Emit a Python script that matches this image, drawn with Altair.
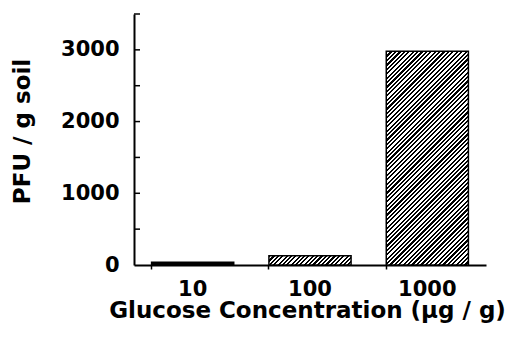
import altair as alt
import pandas as pd

# ---- data ----
categories = ["10", "100", "1000"]
pfu = [40, 130, 2980]
y_label_values = [0, 1000, 2000, 3000]
y_tick_values = [500, 1000, 1500, 2000, 2500, 3000, 3500]

df = pd.DataFrame({"conc": categories, "pfu": pfu})
ticks_df = pd.DataFrame({"t": y_tick_values})

# ---- layout/style ----
W, H = 352, 251
YMAX = 3500
FONT = "DejaVu Sans"
pad_inner, pad_outer = 0.3, 0.15
band_w = W / (len(categories) - pad_inner + 2 * pad_outer) * (1 - pad_inner)


def hatch(w, h, period=4.4, frac=0.5):
    """Diagonal '/' hatching expressed as a linear gradient in bbox units."""
    L = w + h
    n = max(1, round(L / period))
    k = (w + h) / (w * w + h * h)
    stops = []
    for i in range(n):
        a, b, c = i / n, (i + frac) / n, (i + 1) / n
        stops += [
            {"offset": a, "color": "black"},
            {"offset": b, "color": "black"},
            {"offset": b, "color": "white"},
            {"offset": c, "color": "white"},
        ]
    return {"gradient": "linear", "x1": 0, "y1": 0, "x2": w * k, "y2": h * k, "stops": stops}


x_enc = alt.X(
    "conc:N",
    sort=categories,
    scale=alt.Scale(paddingInner=pad_inner, paddingOuter=pad_outer),
    axis=alt.Axis(
        title="Glucose Concentration (μg / g)",
        labelAngle=0,
        bandPosition=0,
        tickSize=4,
        tickWidth=1.5,
        tickColor="black",
        domainColor="black",
        domainWidth=2,
        labelFont=FONT,
        labelFontWeight="bold",
        labelFontSize=21,
        labelColor="black",
        labelPadding=9,
        titleFont=FONT,
        titleFontWeight="bold",
        titleFontSize=23,
        titleColor="black",
        titlePadding=0,
        titleX=173,
        grid=False,
    ),
)
y_enc = alt.Y(
    "pfu:Q",
    scale=alt.Scale(domain=[0, YMAX], nice=False, zero=True),
    axis=alt.Axis(
        title="PFU / g soil",
        values=y_label_values,
        format="d",
        ticks=False,
        domainColor="black",
        domainWidth=2,
        labelFont=FONT,
        labelFontWeight="bold",
        labelFontSize=21,
        labelColor="black",
        labelPadding=15,
        titleFont=FONT,
        titleFontWeight="bold",
        titleFontSize=23,
        titleColor="black",
        titlePadding=26,
        titleY=117,
        grid=False,
    ),
)

layers = []
for cat, val in zip(categories, pfu):
    h = val / YMAX * H
    fill = "black" if h < 5 else hatch(band_w, h)
    layers.append(
        alt.Chart(df)
        .transform_filter(alt.datum.conc == cat)
        .mark_bar(color=fill, stroke="black", strokeWidth=1.5)
        .encode(x=x_enc, y=y_enc)
    )

ticks = (
    alt.Chart(ticks_df)
    .mark_rule(color="black", strokeWidth=1.5)
    .encode(y=alt.Y("t:Q", scale=alt.Scale(domain=[0, YMAX], nice=False)), x=alt.value(0), x2=alt.value(6))
)

chart = (
    alt.layer(*layers, ticks)
    .properties(
        width=W,
        height=H,
        autosize=alt.AutoSizeParams(type="none"),
        padding={"left": 126, "top": 6, "right": 20, "bottom": 60},
    )
    .configure(background="white")
    .configure_view(stroke=None)
)

chart.save("out.html", embed_options={"renderer": "svg", "actions": False})
